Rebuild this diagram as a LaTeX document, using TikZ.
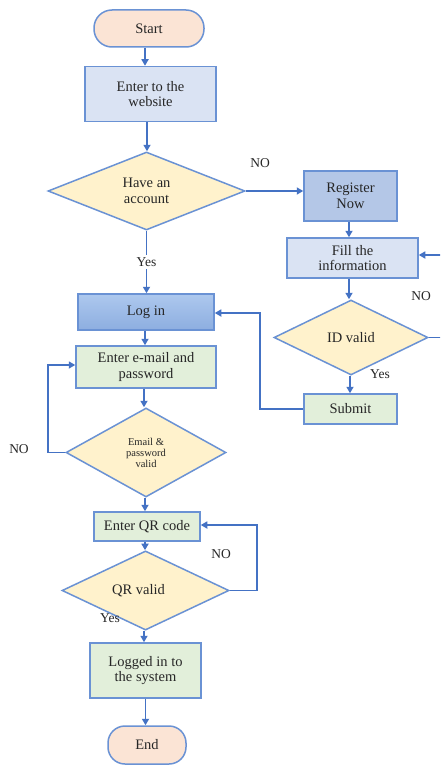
\documentclass[tikz,border=0pt]{standalone}
\usepackage{fontspec}
\setmainfont{Liberation Serif}
\usetikzlibrary{shapes.geometric,arrows.meta}
\definecolor{bord}{HTML}{6A92D4}
\definecolor{arr}{HTML}{4472C4}
\definecolor{peach}{HTML}{FBE4D5}
\definecolor{lblue}{HTML}{DAE3F3}
\definecolor{rblue}{HTML}{B4C7E7}
\definecolor{yel}{HTML}{FFF2CC}
\definecolor{grn}{HTML}{E2EFDA}
\definecolor{logtop}{HTML}{ADC8EE}
\definecolor{logbot}{HTML}{8DAEE0}
\definecolor{txt}{HTML}{262626}
\tikzset{
  base/.style={draw=bord, line width=1.5pt, inner sep=0pt, align=center,
    font=\fontsize{14.5}{15.5}\selectfont, text=txt},
  term/.style={base, fill=peach, rectangle, rounded corners=18pt},
  box/.style={base, rectangle},
  dec/.style={base, diamond, fill=yel},
  lab/.style={font=\fontsize{13.5}{14}\selectfont, text=txt, inner sep=1pt},
  conn/.style={draw=arr, line width=1.7pt, -{Triangle[length=6.5pt,width=7pt]}},
  line/.style={draw=arr, line width=1.7pt}
}
\begin{document}
\begin{tikzpicture}[x=1pt,y=-1pt]
\clip (0,0) rectangle (440,765);
\fill[white] (0,0) rectangle (440,765);
% nodes
\node[term, minimum width=110pt, minimum height=37pt] (start) at (149,28.5) {Start};
\node[box, fill=lblue, minimum width=131pt, minimum height=55pt] (web) at (150.5,94) {Enter to the\\website};
\node[dec, minimum width=197pt, minimum height=78pt] (acc) at (146.5,191) {Have an\\account};
\node[box, fill=rblue, minimum width=93pt, minimum height=50pt] (reg) at (350.5,196) {Register\\Now};
\node[box, fill=lblue, minimum width=131pt, minimum height=40pt] (fill) at (352.5,258) {Fill the\\information};
\node[dec, minimum width=154pt, minimum height=75pt] (id) at (351,337.5) {ID valid};
\node[box, fill=grn, minimum width=93pt, minimum height=30pt] (sub) at (350.5,409) {Submit};
\node[box, top color=logtop, bottom color=logbot, minimum width=136pt, minimum height=36pt] (login) at (146,312) {Log in};
\node[box, fill=grn, minimum width=140pt, minimum height=42pt] (email) at (146,367) {Enter e-mail and\\password};
\node[dec, minimum width=160pt, minimum height=89pt, font=\fontsize{10.5}{11}\selectfont] (ev) at (146,452.5) {Email \&\\password\\valid};
\node[box, fill=grn, minimum width=106pt, minimum height=29pt] (qrc) at (147,526.5) {Enter QR code};
\node[dec, minimum width=167pt, minimum height=63pt] (qr) at (145.5,590.5) {QR valid\hspace{14pt}};
\node[box, fill=grn, minimum width=111pt, minimum height=55pt] (sys) at (145.5,670.5) {Logged in to\\the system};
\node[term, minimum width=78pt, minimum height=38pt, rounded corners=17pt] (end) at (147,745) {End};
% labels
\node[lab] (noacc) at (260,163) {NO};
\node[lab] (noid) at (421,296) {NO};
\node[lab] (yesid) at (380,374) {Yes};
\node[lab] (noev) at (19,449) {NO};
\node[lab] (noqr) at (221,554) {NO};
\node[lab] (yesqr) at (110,618) {Yes};
% connectors
\draw[conn] ([xshift=-4pt]start.south) -- ([xshift=-4pt]start.south |- web.north);
\draw[conn] ([xshift=-3.5pt]web.south) -- ([xshift=-3.5pt]web.south |- acc.north);
\draw[conn] (acc.east) -- (acc.east -| reg.west);
\draw[conn] ([xshift=-1.5pt]reg.south) -- ([xshift=-1.5pt]reg.south |- fill.north);
\draw[conn] ([xshift=-3.5pt]fill.south) -- ([xshift=-3.5pt]fill.south |- id.north);
\draw[conn] ([xshift=-1pt]id.south) -- ([xshift=-1pt]id.south |- sub.north);
\draw[line] (id.east) -- ([xshift=20pt]id.east) coordinate (idr);
\draw[conn] (idr) |- ([yshift=3pt]fill.east);
\draw[conn] (sub.west) -- ([xshift=-43pt]sub.west) coordinate (subl) |- ([yshift=-1pt]login.east);
\draw[conn] (acc.south) -- node[lab, fill=white, inner sep=3pt] (yesacc) {Yes} (acc.south |- login.north);
\draw[conn] ([xshift=-1pt]login.south) -- ([xshift=-1pt]login.south |- email.north);
\draw[conn] ([xshift=-2pt]email.south) -- ([xshift=-2pt]email.south |- ev.north);
\draw[conn] (ev.west) -- ([xshift=-17pt]ev.west) coordinate (evl) |- ([yshift=2pt]email.west);
\draw[conn] ([xshift=-1pt]ev.south) -- ([xshift=-1pt]ev.south |- qrc.north);
\draw[conn] ([xshift=-2pt]qrc.south) -- ([xshift=-2pt]qrc.south |- qr.north);
\draw[conn] (qr.east) -- ([xshift=27pt]qr.east) coordinate (qrr) |- ([yshift=1.5pt]qrc.east);
\draw[conn] ([xshift=-1.5pt]qr.south) -- ([xshift=-1.5pt]qr.south |- sys.north);
\draw[conn] (sys.south) -- (sys.south |- end.north);
\end{tikzpicture}
\end{document}
